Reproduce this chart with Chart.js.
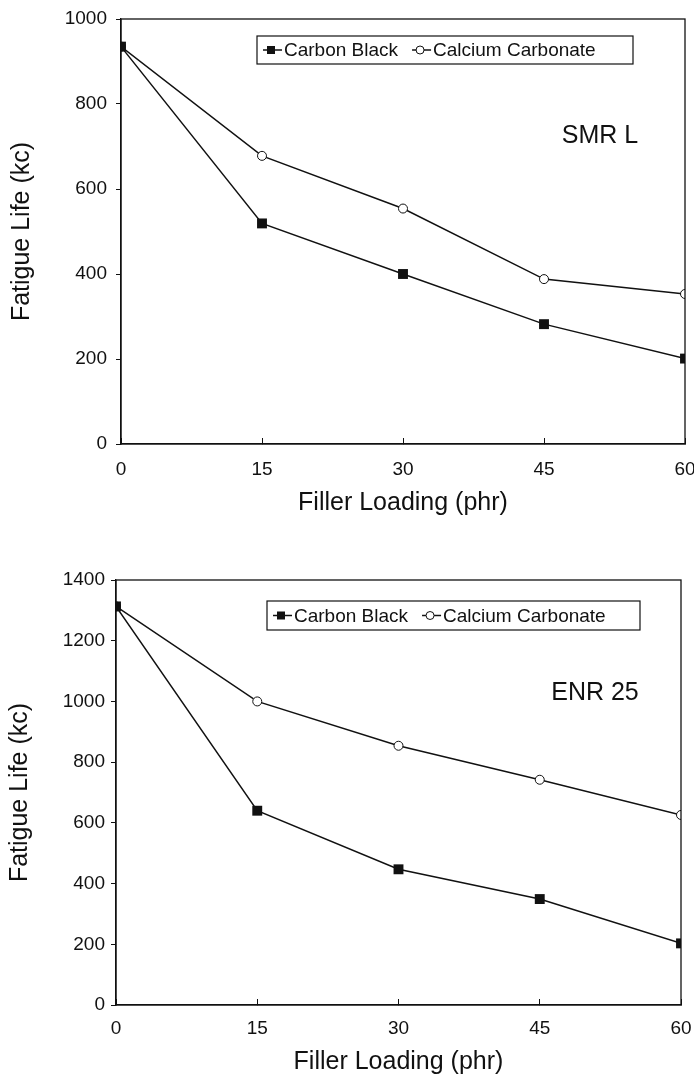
<!DOCTYPE html>
<html>
<head>
<meta charset="utf-8">
<script src="https://cdn.jsdelivr.net/npm/chart.js@4.4.0/dist/chart.umd.min.js"></script>
<style>
  html, body { margin: 0; padding: 0; background: #fff; }
  canvas { position: absolute; left: 0; }
  #smr { top: 0; }
  #enr { top: 540px; }
</style>
</head>
<body>
<canvas id="smr" width="694" height="540"></canvas>
<canvas id="enr" width="694" height="537"></canvas>
<script>
// filler loading (phr) on the x axis
const fillerLoading = [0, 15, 30, 45, 60];
const seriesNames = ["Carbon Black", "Calcium Carbonate"];

// fatigue life (kc)
const smrCarbonBlack = [935, 519, 400, 282, 201];
const smrCalcium = [935, 678, 554, 388, 353];
const enrCarbonBlack = [1313, 640, 447, 349, 203];
const enrCalcium = [1313, 1000, 854, 742, 626];

const FONT = "'Liberation Sans', Arial, Helvetica, sans-serif";
const INK = "#111";

const toPoints = (vals) => fillerLoading.map((x, i) => ({ x: x, y: vals[i] }));

function drawMarker(ctx, style, x, y, r) {
    ctx.save();
    ctx.lineWidth = 1;
    ctx.strokeStyle = INK;
    if (style === "rect") {
        ctx.fillStyle = INK;
        ctx.fillRect(x - r, y - r, 2 * r, 2 * r);
    } else {
        ctx.fillStyle = "#fff";
        ctx.beginPath();
        ctx.arc(x, y, r, 0, Math.PI * 2);
        ctx.fill();
        ctx.stroke();
    }
    ctx.restore();
}

// box round the plot, the inset legend and the rubber label
const framePlugin = {
    id: "frame",
    afterDatasetsDraw(chart, args, opts) {
        const { ctx, chartArea: a } = chart;
        ctx.save();
        ctx.strokeStyle = INK;
        ctx.lineWidth = 1.3;
        ctx.strokeRect(a.left, a.top, a.right - a.left, a.bottom - a.top);

        ctx.fillStyle = INK;
        ctx.textAlign = "center";
        ctx.textBaseline = "middle";
        ctx.font = "25px " + FONT;
        ctx.fillText(opts.label, a.left + opts.labelAt[0], a.top + opts.labelAt[1]);

        const [bx, by, bw, bh] = [a.left + opts.box[0], a.top + opts.box[1], opts.box[2], opts.box[3]];
        ctx.fillStyle = "#fff";
        ctx.fillRect(bx, by, bw, bh);
        ctx.lineWidth = 1.2;
        ctx.strokeRect(bx, by, bw, bh);

        ctx.font = "19px " + FONT;
        ctx.textAlign = "left";
        const cy = by + bh / 2;
        let x = bx + 6;
        chart.data.datasets.forEach((ds) => {
            ctx.beginPath();
            ctx.moveTo(x, cy);
            ctx.lineTo(x + 19, cy);
            ctx.lineWidth = 1.5;
            ctx.strokeStyle = INK;
            ctx.stroke();
            drawMarker(ctx, ds.pointStyle, x + 8, cy, 4);
            ctx.fillStyle = INK;
            ctx.fillText(ds.label, x + 21, cy + 1);
            x += 21 + ctx.measureText(ds.label).width + 14;
        });
        ctx.restore();
    },
};

function makeChart(id, cbVals, ccVals, yMax, lay) {
    const ctx = document.getElementById(id).getContext("2d");
    return new Chart(ctx, {
        type: "line",
        data: {
            datasets: [
                {
                    label: seriesNames[0],
                    data: toPoints(cbVals),
                    borderColor: INK,
                    borderWidth: 1.5,
                    pointStyle: "rect",
                    pointRadius: 7,
                    pointBackgroundColor: INK,
                    pointBorderColor: INK,
                    pointBorderWidth: 0,
                    tension: 0,
                },
                {
                    label: seriesNames[1],
                    data: toPoints(ccVals),
                    borderColor: INK,
                    borderWidth: 1.5,
                    pointStyle: "circle",
                    pointRadius: 4.5,
                    pointBackgroundColor: "#fff",
                    pointBorderColor: INK,
                    pointBorderWidth: 1,
                    tension: 0,
                },
            ],
        },
        options: {
            responsive: false,
            animation: false,
            events: [],
            layout: { padding: { left: 0, top: lay.top, right: lay.right, bottom: 0 } },
            plugins: {
                legend: { display: false },
                tooltip: { enabled: false },
                frame: { label: lay.label, labelAt: lay.labelAt, box: lay.box },
            },
            scales: {
                x: {
                    type: "linear",
                    min: 0,
                    max: 60,
                    afterFit: (s) => {
                        s.height = lay.xHeight;
                        s.paddingLeft = 0;
                        s.paddingRight = 0;
                    },
                    afterBuildTicks: (s) => { s.ticks = fillerLoading.map((v) => ({ value: v })); },
                    grid: { drawOnChartArea: false, drawTicks: true, tickLength: -6, color: INK },
                    border: { color: INK, width: 1.3 },
                    ticks: { color: INK, padding: lay.xPad, font: { family: FONT, size: 19 } },
                    title: {
                        display: true,
                        text: "Filler Loading (phr)",
                        color: INK,
                        padding: { top: 0, bottom: lay.xTitlePad },
                        font: { family: FONT, size: 25 },
                    },
                },
                y: {
                    min: 0,
                    max: yMax,
                    afterFit: (s) => {
                        s.width = lay.yWidth;
                        s.paddingTop = 0;
                        s.paddingBottom = 0;
                    },
                    grid: { drawOnChartArea: false, drawTicks: true, tickLength: 5, color: INK },
                    border: { color: INK, width: 1.3 },
                    ticks: {
                        stepSize: 200,
                        color: INK,
                        padding: lay.yPad,
                        font: { family: FONT, size: 19 },
                        callback: (v) => String(v),
                    },
                    title: {
                        display: true,
                        text: "Fatigue Life (kc)",
                        color: INK,
                        padding: { top: lay.yTitlePad, bottom: 0 },
                        font: { family: FONT, size: 25 },
                    },
                },
            },
        },
        plugins: [framePlugin],
    });
}

makeChart("smr", smrCarbonBlack, smrCalcium, 1000, {
    top: 19, right: 9, yWidth: 121, xHeight: 96,
    xPad: 20, xTitlePad: 22, yPad: 9, yTitlePad: 7,
    label: "SMR L", labelAt: [479, 117], box: [136, 17, 376, 28],
});

makeChart("enr", enrCarbonBlack, enrCalcium, 1400, {
    top: 40, right: 13, yWidth: 116, xHeight: 72,
    xPad: 18, xTitlePad: 0, yPad: 6, yTitlePad: 5,
    label: "ENR 25", labelAt: [479, 113], box: [151, 21, 373, 29],
});
</script>
</body>
</html>
